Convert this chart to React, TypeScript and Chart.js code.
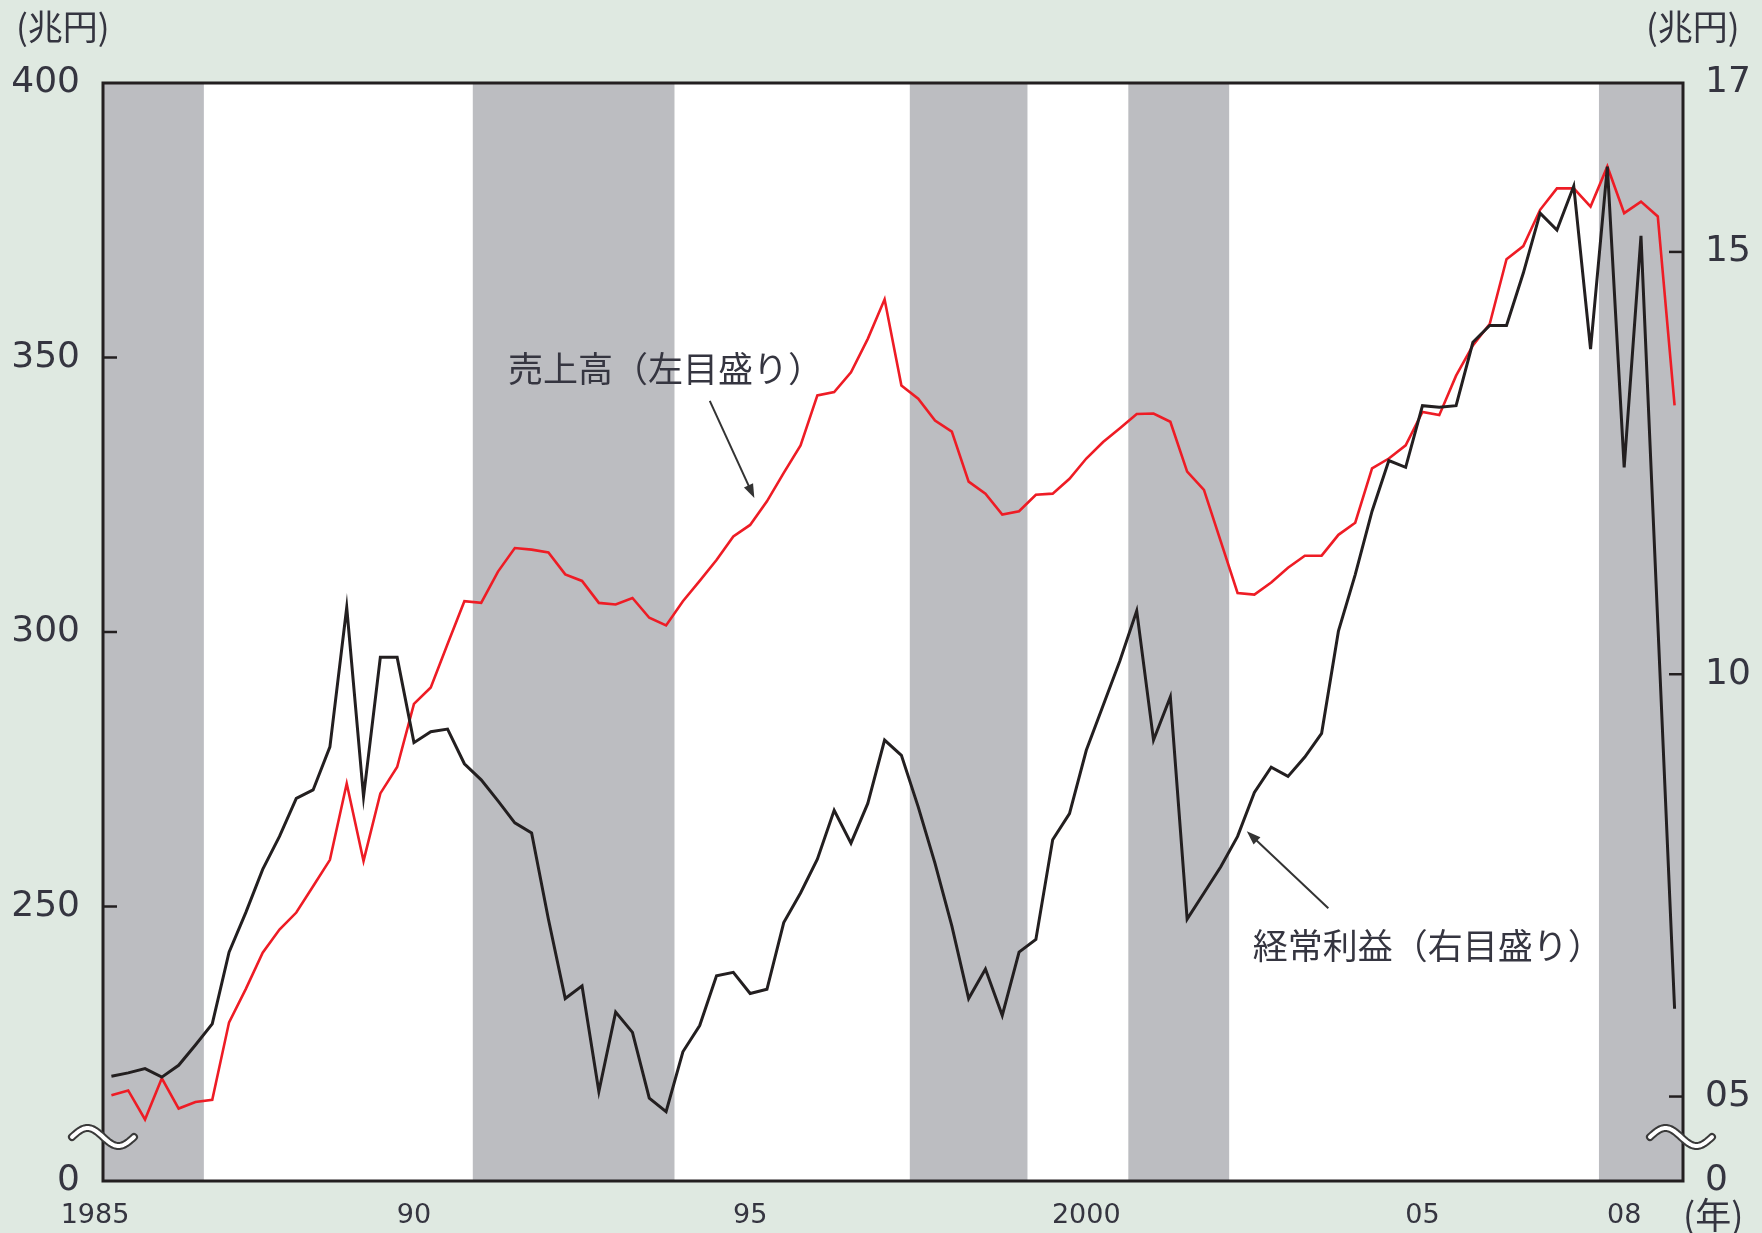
import React, { useEffect, useRef } from 'react';
import { Chart, registerables } from 'chart.js';

Chart.register(...registerables);

// Quarterly data, 1985 Q3 .. 2008 Q4 (seasonally adjusted, trillion yen)
const FIRST_YEAR = 1985;
const FIRST_QUARTER = 3;

// 売上高 (left axis)
const salesValues = [
  215.6, 216.5, 211.2, 218.7, 213.2, 214.4, 214.8, 228.9, 235.0, 241.6,
  245.8, 248.9, 253.7, 258.5, 272.4, 258.3, 270.6, 275.4, 286.9, 289.9,
  297.8, 305.6, 305.3, 311.0, 315.3, 315.0, 314.5, 310.5, 309.3, 305.3,
  305.0, 306.2, 302.6, 301.2, 305.6, 309.3, 313.1, 317.4, 319.5, 323.8,
  329.0, 334.0, 343.1, 343.7, 347.3, 353.4, 360.6, 344.9, 342.5, 338.5,
  336.5, 327.4, 325.2, 321.4, 322.0, 325.0, 325.2, 327.9, 331.6, 334.6,
  337.1, 339.7, 339.8, 338.3, 329.2, 325.9, 316.5, 307.1, 306.8, 309.0,
  311.7, 313.9, 313.9, 317.7, 319.9, 329.8, 331.6, 334.0, 340.1, 339.5,
  346.7, 352.2, 356.1, 367.9, 370.3, 376.9, 380.8, 380.8, 377.5, 384.8,
  376.3, 378.4, 375.7, 341.3,
];

// 経常利益 (right axis)
const profitValues = [
  5.24, 5.28, 5.33, 5.23, 5.37, 5.61, 5.86, 6.71, 7.18, 7.69,
  8.08, 8.53, 8.63, 9.14, 10.79, 8.55, 10.2, 10.2, 9.19, 9.32,
  9.35, 8.94, 8.75, 8.5, 8.24, 8.12, 7.1, 6.16, 6.31, 5.06,
  6.0, 5.76, 4.98, 4.82, 5.53, 5.84, 6.43, 6.47, 6.22, 6.27,
  7.06, 7.41, 7.81, 8.39, 8.0, 8.47, 9.22, 9.04, 8.43, 7.76,
  7.02, 6.16, 6.51, 5.96, 6.71, 6.86, 8.04, 8.35, 9.1, 9.63,
  10.16, 10.75, 9.22, 9.73, 7.1, 7.41, 7.72, 8.08, 8.6, 8.9,
  8.79, 9.02, 9.3, 10.51, 11.18, 11.93, 12.53, 12.45, 13.18, 13.16,
  13.18, 13.93, 14.13, 14.13, 14.75, 15.46, 15.26, 15.78, 13.85, 16.01,
  12.45, 15.19, 10.61, 6.04,
];

const quarterLabels = salesValues.map((_, i) => {
  const q = FIRST_QUARTER - 1 + i;
  return `${FIRST_YEAR + Math.floor(q / 4)}Q${(q % 4) + 1}`;
});

const xTickYears = [1985, 1990, 1995, 2000, 2005, 2008];
const xTickLabels = ['1985', '90', '95', '2000', '05', '08'];
const leftTickValues = [200, 250, 300, 350, 400];
const leftTickLabels = ['0', '250', '300', '350', '400'];
const rightTickValues = [4, 5, 10, 15, 17];
const rightTickLabels = ['0', '05', '10', '15', '17'];

// shaded periods (recessions), in fractional years
const recessionStarts = [1985.5, 1991.0, 1997.5, 2000.75, 2007.75];
const recessionEnds = [1987.0, 1994.0, 1999.25, 2002.25, 2009.0];

const salesLabel = '売上高（左目盛り）';
const profitLabel = '経常利益（右目盛り）';
const unitLabel = '(兆円)';
const yearUnitLabel = '(年)';

const BG = '#dfe9e1';
const BAND = '#bcbdc1';
const INK = '#231f20';
const TEXT = '#353540';
const RED = '#ee1c25';

const startYear = FIRST_YEAR + (FIRST_QUARTER - 1) / 4;
const edgeIndex = (year: number) => (year - startYear) * 4 - 0.5;
const labelIndex = (year: number) => (year - startYear) * 4;

function arrow(ctx: CanvasRenderingContext2D, x0: number, y0: number, x1: number, y1: number) {
  ctx.save();
  ctx.strokeStyle = '#333';
  ctx.fillStyle = '#333';
  ctx.lineWidth = 2;
  const ang = Math.atan2(y1 - y0, x1 - x0);
  const hl = 14;
  const hw = 5;
  ctx.beginPath();
  ctx.moveTo(x0, y0);
  ctx.lineTo(x1 - Math.cos(ang) * hl * 0.8, y1 - Math.sin(ang) * hl * 0.8);
  ctx.stroke();
  ctx.beginPath();
  ctx.moveTo(x1, y1);
  ctx.lineTo(x1 - Math.cos(ang) * hl - Math.sin(ang) * hw, y1 - Math.sin(ang) * hl + Math.cos(ang) * hw);
  ctx.lineTo(x1 - Math.cos(ang) * hl + Math.sin(ang) * hw, y1 - Math.sin(ang) * hl - Math.cos(ang) * hw);
  ctx.closePath();
  ctx.fill();
  ctx.restore();
}

function drawBreak(ctx: CanvasRenderingContext2D, cx: number, cy: number) {
  ctx.save();
  ctx.beginPath();
  for (let k = 0; k <= 40; k++) {
    const t = k / 40;
    const px = cx - 31 + 62 * t;
    const py = cy - 9 * Math.sin(2 * Math.PI * t);
    if (k === 0) ctx.moveTo(px, py);
    else ctx.lineTo(px, py);
  }
  ctx.lineCap = 'round';
  ctx.lineJoin = 'round';
  ctx.strokeStyle = '#3a3a3a';
  ctx.lineWidth = 8;
  ctx.stroke();
  ctx.strokeStyle = '#ffffff';
  ctx.lineWidth = 4;
  ctx.stroke();
  ctx.restore();
}

const decorPlugin = {
  id: 'decor',
  beforeDraw(chart: any) {
    const { ctx, width, height } = chart;
    ctx.save();
    ctx.fillStyle = BG;
    ctx.fillRect(0, 0, width, height);
    ctx.restore();
  },
  beforeDatasetsDraw(chart: any) {
    const { ctx, chartArea: a } = chart;
    const x = chart.scales.x;
    ctx.save();
    ctx.fillStyle = '#ffffff';
    ctx.fillRect(a.left, a.top, a.right - a.left, a.bottom - a.top);
    ctx.fillStyle = BAND;
    for (let k = 0; k < recessionStarts.length; k++) {
      const x0 = Math.max(a.left, x.getPixelForValue(edgeIndex(recessionStarts[k])));
      const x1 = Math.min(a.right, x.getPixelForValue(edgeIndex(recessionEnds[k])));
      ctx.fillRect(x0, a.top, x1 - x0, a.bottom - a.top);
    }
    ctx.restore();
  },
  afterDatasetsDraw(chart: any) {
    const { ctx, chartArea: a } = chart;
    const x = chart.scales.x;
    const yL = chart.scales.yL;
    const yR = chart.scales.yR;
    ctx.save();
    // frame
    ctx.strokeStyle = INK;
    ctx.lineWidth = 3;
    ctx.strokeRect(a.left, a.top, a.right - a.left, a.bottom - a.top);
    // inner tick marks
    ctx.lineWidth = 2.5;
    leftTickValues.forEach((v) => {
      if (v === yL.min || v === yL.max) return;
      const py = yL.getPixelForValue(v);
      ctx.beginPath();
      ctx.moveTo(a.left, py);
      ctx.lineTo(a.left + 14, py);
      ctx.stroke();
    });
    rightTickValues.forEach((v) => {
      if (v === yR.min || v === yR.max) return;
      const py = yR.getPixelForValue(v);
      ctx.beginPath();
      ctx.moveTo(a.right, py);
      ctx.lineTo(a.right - 14, py);
      ctx.stroke();
    });
    // axis breaks
    const by = (yL.getPixelForValue(200) + yL.getPixelForValue(250)) / 2;
    const breakY = a.bottom - 44;
    drawBreak(ctx, a.left, breakY);
    drawBreak(ctx, a.right - 2, breakY);
    void by;

    // x labels
    ctx.fillStyle = TEXT;
    ctx.font = '27px "DejaVu Sans"';
    ctx.textAlign = 'center';
    ctx.textBaseline = 'middle';
    xTickYears.forEach((yr, k) => {
      let px = x.getPixelForValue(labelIndex(yr));
      px = Math.max(px, a.left - 8);
      ctx.fillText(xTickLabels[k], px, a.bottom + 35);
    });

    // unit labels
    ctx.font = '35px "Noto Sans CJK JP"';
    ctx.textAlign = 'left';
    ctx.fillText(unitLabel, 16, 27);
    ctx.fillText(unitLabel, 1646, 27);
    ctx.font = '36px "Noto Sans CJK JP"';
    ctx.fillText(yearUnitLabel, a.right, a.bottom + 34);

    // annotations
    ctx.font = '35px "Noto Sans CJK JP"';
    ctx.fillText(salesLabel, x.getPixelForValue(23.6), yL.getPixelForValue(348));
    ctx.fillText(profitLabel, x.getPixelForValue(67.9), yR.getPixelForValue(6.78));
    arrow(ctx, x.getPixelForValue(35.6), yL.getPixelForValue(342.1), x.getPixelForValue(38.25), yL.getPixelForValue(324.4));
    arrow(ctx, x.getPixelForValue(72.4), yR.getPixelForValue(7.23), x.getPixelForValue(67.55), yR.getPixelForValue(8.14));
    ctx.restore();
  },
};

export default function App() {
  const ref = useRef<HTMLCanvasElement | null>(null);

  useEffect(() => {
    if (!ref.current) return;
    const chart = new Chart(ref.current, {
      type: 'line',
      data: {
        labels: quarterLabels,
        datasets: [
          {
            label: '経常利益',
            data: profitValues,
            yAxisID: 'yR',
            borderColor: INK,
            borderWidth: 3,
            pointRadius: 0,
            tension: 0,
            order: 0,
          },
          {
            label: '売上高',
            data: salesValues,
            yAxisID: 'yL',
            borderColor: RED,
            borderWidth: 2.6,
            pointRadius: 0,
            tension: 0,
            order: 1,
          },
        ],
      },
      options: {
        responsive: false,
        animation: false,
        devicePixelRatio: 1,
        layout: { padding: { top: 83, bottom: 52, left: 0, right: 0 } },
        plugins: { legend: { display: false }, tooltip: { enabled: false } },
        scales: {
          x: {
            type: 'category',
            display: false,
            offset: true,
            grid: { display: false },
          },
          yL: {
            type: 'linear',
            position: 'left',
            min: 200,
            max: 400,
            grid: { display: false, drawTicks: false },
            border: { display: false },
            afterFit: (s: any) => {
              s.width = 103;
            },
            afterBuildTicks: (s: any) => {
              s.ticks = leftTickValues.map((v) => ({ value: v }));
            },
            ticks: {
              padding: 23,
              color: TEXT,
              font: { family: '"DejaVu Sans"', size: 36 },
              callback: (v: any) => leftTickLabels[leftTickValues.indexOf(Number(v))] ?? '',
            },
          },
          yR: {
            type: 'linear',
            position: 'right',
            min: 4,
            max: 17,
            grid: { display: false, drawTicks: false },
            border: { display: false },
            afterFit: (s: any) => {
              s.width = 79;
            },
            afterBuildTicks: (s: any) => {
              s.ticks = rightTickValues.map((v) => ({ value: v }));
            },
            ticks: {
              padding: 22,
              color: TEXT,
              font: { family: '"DejaVu Sans"', size: 36 },
              callback: (v: any) => rightTickLabels[rightTickValues.indexOf(Number(v))] ?? '',
            },
          },
        },
      },
      plugins: [decorPlugin],
    });
    return () => chart.destroy();
  }, []);

  return (
    <div style={{ width: 1762, height: 1233, background: BG }}>
      <style>{'body{margin:0;}'}</style>
      <canvas ref={ref} width={1762} height={1233} style={{ display: 'block' }} />
    </div>
  );
}
